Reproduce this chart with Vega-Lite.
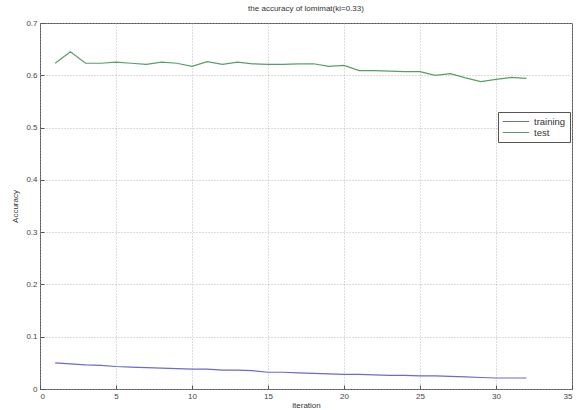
{
  "$schema": "https://vega.github.io/schema/vega-lite/v6.json",
  "autosize": "none",
  "width": 532,
  "height": 366,
  "padding": {"left": 40, "top": 23, "right": 6, "bottom": 21},
  "background": "white",
  "title": {"text": "the accuracy of lomimat(ki=0.33)", "fontSize": 8, "fontWeight": "normal", "font": "Liberation Sans", "color": "#333", "offset": 6},
  "config": {
    "view": {"stroke": "#555", "strokeWidth": 1},
    "axis": {"labelFont": "Liberation Sans", "titleFont": "Liberation Sans", "labelFontSize": 8, "titleFontSize": 8, "titleFontWeight": "normal", "labelColor": "#444", "titleColor": "#333", "gridColor": "#aaa", "gridDash": [1, 2], "gridOpacity": 0.8, "domain": false, "tickColor": "#555", "tickSize": -4}
  },
  "data": {"values": [
    {"iteration": 1, "acc": 0.050, "series": "training"},
    {"iteration": 2, "acc": 0.048, "series": "training"},
    {"iteration": 3, "acc": 0.046, "series": "training"},
    {"iteration": 4, "acc": 0.045, "series": "training"},
    {"iteration": 5, "acc": 0.043, "series": "training"},
    {"iteration": 6, "acc": 0.042, "series": "training"},
    {"iteration": 7, "acc": 0.041, "series": "training"},
    {"iteration": 8, "acc": 0.040, "series": "training"},
    {"iteration": 9, "acc": 0.039, "series": "training"},
    {"iteration": 10, "acc": 0.038, "series": "training"},
    {"iteration": 11, "acc": 0.038, "series": "training"},
    {"iteration": 12, "acc": 0.036, "series": "training"},
    {"iteration": 13, "acc": 0.036, "series": "training"},
    {"iteration": 14, "acc": 0.035, "series": "training"},
    {"iteration": 15, "acc": 0.032, "series": "training"},
    {"iteration": 16, "acc": 0.032, "series": "training"},
    {"iteration": 17, "acc": 0.031, "series": "training"},
    {"iteration": 18, "acc": 0.030, "series": "training"},
    {"iteration": 19, "acc": 0.029, "series": "training"},
    {"iteration": 20, "acc": 0.028, "series": "training"},
    {"iteration": 21, "acc": 0.028, "series": "training"},
    {"iteration": 22, "acc": 0.027, "series": "training"},
    {"iteration": 23, "acc": 0.026, "series": "training"},
    {"iteration": 24, "acc": 0.026, "series": "training"},
    {"iteration": 25, "acc": 0.025, "series": "training"},
    {"iteration": 26, "acc": 0.025, "series": "training"},
    {"iteration": 27, "acc": 0.024, "series": "training"},
    {"iteration": 28, "acc": 0.023, "series": "training"},
    {"iteration": 29, "acc": 0.022, "series": "training"},
    {"iteration": 30, "acc": 0.021, "series": "training"},
    {"iteration": 31, "acc": 0.021, "series": "training"},
    {"iteration": 32, "acc": 0.021, "series": "training"},
    {"iteration": 1, "acc": 0.623, "series": "test"},
    {"iteration": 2, "acc": 0.645, "series": "test"},
    {"iteration": 3, "acc": 0.623, "series": "test"},
    {"iteration": 4, "acc": 0.623, "series": "test"},
    {"iteration": 5, "acc": 0.625, "series": "test"},
    {"iteration": 6, "acc": 0.623, "series": "test"},
    {"iteration": 7, "acc": 0.621, "series": "test"},
    {"iteration": 8, "acc": 0.625, "series": "test"},
    {"iteration": 9, "acc": 0.623, "series": "test"},
    {"iteration": 10, "acc": 0.617, "series": "test"},
    {"iteration": 11, "acc": 0.626, "series": "test"},
    {"iteration": 12, "acc": 0.621, "series": "test"},
    {"iteration": 13, "acc": 0.625, "series": "test"},
    {"iteration": 14, "acc": 0.622, "series": "test"},
    {"iteration": 15, "acc": 0.621, "series": "test"},
    {"iteration": 16, "acc": 0.621, "series": "test"},
    {"iteration": 17, "acc": 0.622, "series": "test"},
    {"iteration": 18, "acc": 0.622, "series": "test"},
    {"iteration": 19, "acc": 0.617, "series": "test"},
    {"iteration": 20, "acc": 0.619, "series": "test"},
    {"iteration": 21, "acc": 0.609, "series": "test"},
    {"iteration": 22, "acc": 0.609, "series": "test"},
    {"iteration": 23, "acc": 0.608, "series": "test"},
    {"iteration": 24, "acc": 0.607, "series": "test"},
    {"iteration": 25, "acc": 0.607, "series": "test"},
    {"iteration": 26, "acc": 0.600, "series": "test"},
    {"iteration": 27, "acc": 0.603, "series": "test"},
    {"iteration": 28, "acc": 0.595, "series": "test"},
    {"iteration": 29, "acc": 0.588, "series": "test"},
    {"iteration": 30, "acc": 0.592, "series": "test"},
    {"iteration": 31, "acc": 0.596, "series": "test"},
    {"iteration": 32, "acc": 0.594, "series": "test"}
  ]},
  "mark": {"type": "line", "strokeWidth": 1.2},
  "encoding": {
    "x": {"field": "iteration", "type": "quantitative", "scale": {"domain": [0, 35], "nice": false}, "axis": {"values": [0, 5, 10, 15, 20, 25, 30, 35], "title": "iteration", "titlePadding": 1, "labelPadding": 7}},
    "y": {"field": "acc", "type": "quantitative", "scale": {"domain": [0, 0.7], "nice": false}, "axis": {"values": [0, 0.1, 0.2, 0.3, 0.4, 0.5, 0.6, 0.7], "format": "~g", "title": "Accuracy", "titlePadding": 6, "labelPadding": 7}},
    "color": {"field": "series", "type": "nominal", "scale": {"domain": ["training", "test"], "range": ["#6a6ad0", "#5a9e66"]}, "legend": {"title": null, "orient": "none", "legendX": 458, "legendY": 89, "symbolType": "stroke", "symbolSize": 700, "symbolStrokeWidth": 1.2, "labelFontSize": 9.5, "labelFont": "Liberation Sans", "labelColor": "#333", "strokeColor": "#555", "fillColor": "white", "padding": 4, "rowPadding": 0, "clipHeight": 11, "labelOffset": 4, "labelLimit": 60}}
  }
}
